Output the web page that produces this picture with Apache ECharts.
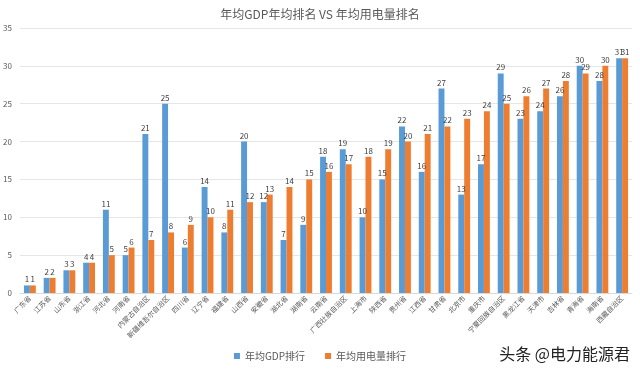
<!DOCTYPE html>
<html><head><meta charset="utf-8">
<script src="https://cdn.jsdelivr.net/npm/echarts@6/dist/echarts.min.js"></script>
<style>html,body{margin:0;padding:0;background:#fff}#c{width:640px;height:372px}</style>
</head><body><div id="c"></div>
<script>
const categories = ['广东省','江苏省','山东省','浙江省','河北省','河南省','内蒙古自治区','新疆维吾尔自治区','四川省','辽宁省','福建省','山西省','安徽省','湖北省','湖南省','云南省','广西壮族自治区','上海市','陕西省','贵州省','江西省','甘肃省','北京市','重庆市','宁夏回族自治区','黑龙江省','天津市','吉林省','青海省','海南省','西藏自治区'];
const gdpRank = [1,2,3,4,11,5,21,25,6,14,8,20,12,7,9,18,19,10,15,22,16,27,13,17,29,23,24,26,30,28,31];
const powerRank = [1,2,3,4,5,6,7,8,9,10,11,12,13,14,15,16,17,18,19,20,21,22,23,24,25,26,27,28,29,30,31];
const seriesNames = ['年均GDP排行','年均用电量排行'];
const font = '"Noto Sans CJK SC", "Noto Sans", sans-serif';
const chart = echarts.init(document.getElementById('c'));
chart.setOption({
  animation: false,
  textStyle: {fontFamily: font},
  title: {text: '年均GDP年均排名 VS 年均用电量排名', left: 'center', top: 3,
    textStyle: {fontSize: 12, fontWeight: 'normal', color: '#595959', fontFamily: font}},
  legend: {bottom: 6, left: 'center', itemWidth: 6, itemHeight: 6, itemGap: 20, icon: 'rect',
    textStyle: {fontSize: 10, color: '#595959', fontFamily: font}, data: seriesNames},
  grid: {left: 20, right: 8, top: 28, bottom: 79},
  xAxis: {type: 'category', data: categories,
    axisLine: {lineStyle: {color: '#d9d9d9'}}, axisTick: {show: false},
    axisLabel: {rotate: 45, fontSize: 7, color: '#595959', interval: 0, margin: 4, fontFamily: font}},
  yAxis: {type: 'value', min: 0, max: 35, interval: 5,
    axisLabel: {fontSize: 8, color: '#595959', margin: 8},
    splitLine: {lineStyle: {color: '#e6e6e6'}}, axisLine: {show: false}, axisTick: {show: false}},
  graphic: [{type: 'text', right: 10, bottom: 10,
    style: {text: '头条 @电力能源君', fontSize: 16, fill: '#222', fontFamily: font}}],
  series: [
    {name: seriesNames[0], type: 'bar', data: gdpRank, barGap: '0%', barCategoryGap: '40%',
      itemStyle: {color: '#5B9BD5'},
      label: {show: true, position: 'top', fontSize: 8, color: '#404040', distance: 2}},
    {name: seriesNames[1], type: 'bar', data: powerRank,
      itemStyle: {color: '#ED7D31'},
      label: {show: true, position: 'top', fontSize: 8, color: '#404040', distance: 2}}
  ]
});
</script></body></html>
